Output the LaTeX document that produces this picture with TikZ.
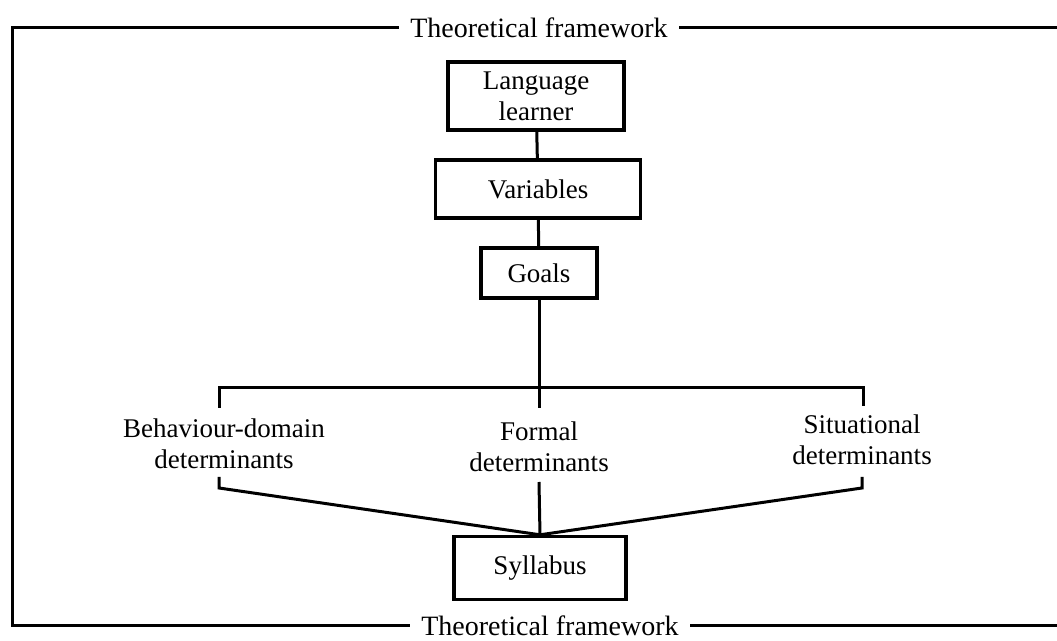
\documentclass[tikz,border=0pt]{standalone}
\usepackage{fontspec}
\setmainfont{Liberation Serif}
\begin{document}
\begin{tikzpicture}[x=0.5pt,y=-0.5pt,
  line width=1.5pt,
  every node/.style={font=\fontsize{13.5}{15.5}\selectfont},
  stagebox/.style={draw,line width=1.7pt,rectangle,inner sep=0pt,align=center},
  detlabel/.style={align=center,inner sep=0pt},
  framelabel/.style={inner sep=5pt,font=\fontsize{14}{16}\selectfont}]
\useasboundingbox (0,0) rectangle (1057,641);

% stages of the chain
\node[stagebox,minimum width=88pt,minimum height=34pt] (ll) at (536,96) {Language\\learner};
\node[stagebox,minimum width=102.5pt,minimum height=29pt] (var) at (538,189) {Variables};
\node[stagebox,minimum width=58pt,minimum height=25pt] (goals) at (539,273) {Goals};
\node[stagebox,minimum width=86pt,minimum height=31.5pt] (syl) at (540,568) {Syllabus};

% the three kinds of determinants
\node[detlabel] (beh) at (224,444) {Behaviour-domain\\determinants};
\node[detlabel] (frm) at (539,447) {Formal\\determinants};
\node[detlabel] (sit) at (862,440) {Situational\\determinants};

% enclosing frame
\node[framelabel] (ftop) at (539,28) {Theoretical framework};
\node[framelabel] (fbot) at (550,626) {Theoretical framework};
\draw (ftop.west) -- (12,28) -- (12,626) -- (fbot.west);
\draw (ftop.east) -- (1057,28);
\draw (fbot.east) -- (1057,626);

% bracket corners
\coordinate (j)  at (539,388);
\coordinate (la) at (219,388);
\coordinate (ra) at (863,388);
\coordinate (lb) at (219,408);
\coordinate (mb) at (539,408);
\coordinate (rb) at (863,406);
\coordinate (lc) at (219,477);
\coordinate (ld) at (219,488);
\coordinate (mc) at (539,482);
\coordinate (rc) at (862,477);
\coordinate (rd) at (862,488);

% connectors
\draw (ll) -- (var);
\draw (var) -- (goals);
\draw (goals) -- (j);
\draw (lb) -- (la) -- (ra) -- (rb);
\draw (j) -- (mb);
\draw (lc) -- (ld) -- (syl.north);
\draw (mc) -- (syl.north);
\draw (rc) -- (rd) -- (syl.north);
\end{tikzpicture}
\end{document}
